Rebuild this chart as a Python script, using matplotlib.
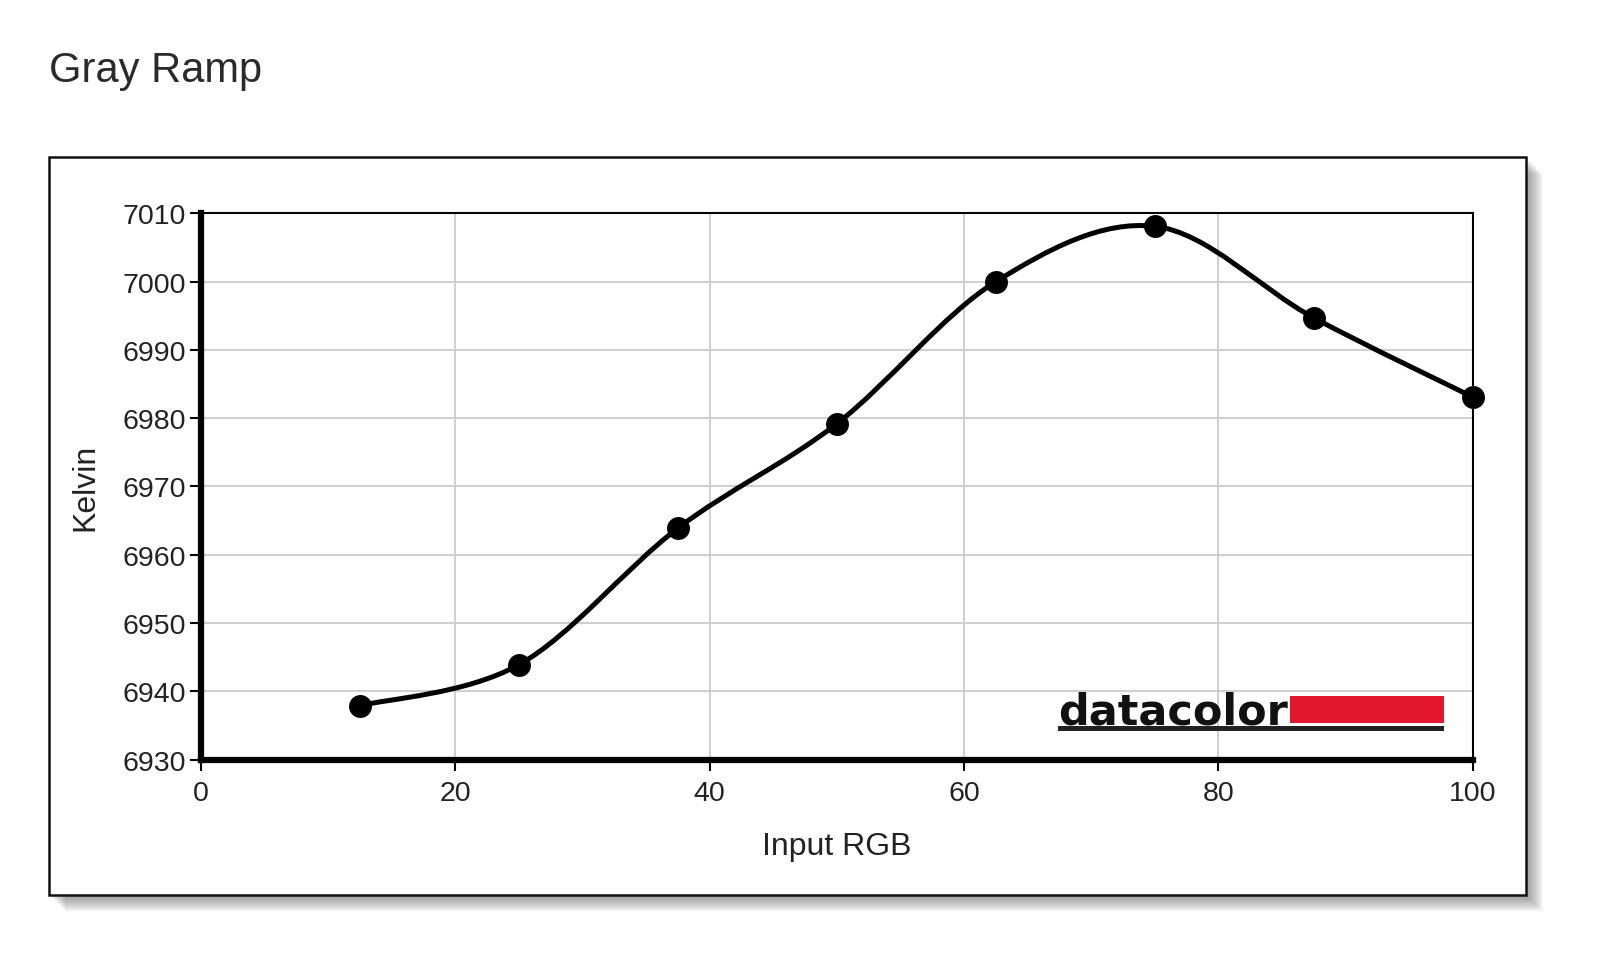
import matplotlib
matplotlib.use("Agg")
import matplotlib.pyplot as plt
from matplotlib.path import Path
from matplotlib.patches import PathPatch, Rectangle

plt.rcParams['font.family'] = ['Liberation Sans', 'DejaVu Sans']

input_rgb = [12.5, 25, 37.5, 50, 62.5, 75, 87.5, 100]
kelvin = [6937.9, 6943.9, 6963.9, 6979.2, 7000.0, 7008.1, 6994.7, 6983.1]
x_ticks = [0, 20, 40, 60, 80, 100]
y_ticks = [6930, 6940, 6950, 6960, 6970, 6980, 6990, 7000, 7010]


def smooth_path(xs, ys, tension=0.5):
    # catmull-rom style bezier through the points
    verts = [(xs[0], ys[0])]
    codes = [Path.MOVETO]
    n = len(xs)
    for i in range(n - 1):
        x0, y0 = (xs[i - 1], ys[i - 1]) if i > 0 else (xs[i], ys[i])
        x1, y1 = xs[i], ys[i]
        x2, y2 = xs[i + 1], ys[i + 1]
        x3, y3 = (xs[i + 2], ys[i + 2]) if i + 2 < n else (x2, y2)
        c1 = (x1 + (x2 - x0) * tension / 3, y1 + (y2 - y0) * tension / 3)
        c2 = (x2 - (x3 - x1) * tension / 3, y2 - (y3 - y1) * tension / 3)
        verts += [c1, c2, (x2, y2)]
        codes += [Path.CURVE4] * 3
    return Path(verts, codes)


fig = plt.figure(figsize=(16, 9.54), dpi=100)

# outer frame with a soft drop shadow
box_x, box_y, box_w, box_h = 0.0306, 0.0603, 0.9231, 0.7738
n_layers = 8
for k in range(n_layers):
    off = (n_layers - k) * 2.0  # pixels
    fig.patches.append(Rectangle((box_x + off / 1600, box_y - off / 954), box_w, box_h,
                                 transform=fig.transFigure, facecolor='#555555',
                                 edgecolor='none', alpha=0.09, zorder=0))
fig.patches.append(Rectangle((box_x, box_y), box_w, box_h, transform=fig.transFigure,
                             facecolor='white', edgecolor='#111111', linewidth=1.8, zorder=1))

fig.text(0.0306, 0.926, "Gray Ramp", fontsize=30, color='#2a2a2a', ha='left', va='center')

ax = fig.add_axes([0.1256, 0.2027, 0.7949, 0.5726])
ax.set_zorder(2)
ax.set_xlim(0, 100)
ax.set_ylim(6930, 7010)
ax.set_xticks(x_ticks)
ax.set_yticks(y_ticks)
ax.grid(True, color='#cccccc', linewidth=1.3)
ax.set_axisbelow(True)

ax.spines['left'].set_linewidth(4.5)
ax.spines['bottom'].set_linewidth(4.5)
ax.spines['top'].set_linewidth(1.5)
ax.spines['right'].set_linewidth(1.5)
ax.tick_params(direction='out', length=8, width=1.5, labelsize=20.5,
               labelcolor='#222222')
ax.tick_params(axis='x', pad=7)
ax.tick_params(axis='y', pad=3)

ax.add_patch(PathPatch(smooth_path(input_rgb, kelvin), facecolor='none',
                       edgecolor='black', linewidth=3.6, zorder=3))
ax.plot(input_rgb, kelvin, linestyle='none', marker='o', markersize=15.5,
        color='black', zorder=4, clip_on=False)

ax.set_xlabel("Input RGB", fontsize=23, color='#222222', labelpad=18)
ax.set_ylabel("Kelvin", fontsize=23, color='#222222', labelpad=16)

# datacolor logo
ax.text(0.674, 0.067, "datacolor", transform=ax.transAxes, fontsize=31,
        fontweight='bold', family=['DejaVu Sans'], color='#111111',
        ha='left', va='baseline', zorder=5)
ax.add_patch(Rectangle((0.856, 0.067), 0.1215, 0.049, transform=ax.transAxes,
                       facecolor='#e3172d', edgecolor='none', zorder=5))
ax.add_patch(Rectangle((0.674, 0.052), 0.3035, 0.009, transform=ax.transAxes,
                       facecolor='#222222', edgecolor='none', zorder=5))

fig.savefig("out.png", dpi=100)
